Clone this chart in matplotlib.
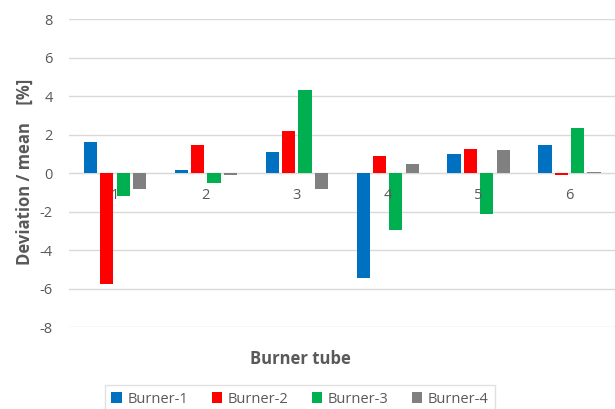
import matplotlib
matplotlib.use("Agg")
import matplotlib.pyplot as plt
import numpy as np

plt.rcParams['font.family'] = ['Open Sans', 'DejaVu Sans']
plt.rcParams['axes.unicode_minus'] = False

# data
tubes = ['1', '2', '3', '4', '5', '6']
burner_1 = [1.65, 0.18, 1.10, -5.43, 1.01, 1.46]
burner_2 = [-5.75, 1.47, 2.20, 0.89, 1.25, -0.08]
burner_3 = [-1.16, -0.48, 4.31, -2.93, -2.11, 2.37]
burner_4 = [-0.82, -0.11, -0.80, 0.49, 1.22, 0.06]

series = [burner_1, burner_2, burner_3, burner_4]
names = ['Burner-1', 'Burner-2', 'Burner-3', 'Burner-4']
colors = ['#0070C0', '#FF0000', '#00B050', '#808080']

txt = '#595959'
grid = '#d9d9d9'

fig = plt.figure(figsize=(6.15, 4.09), dpi=100)
ax = fig.add_axes([0.113, 0.1995, 0.887, 0.7535])

x = np.arange(len(tubes))
step = 0.18
w = 0.145
for i, (vals, name, c) in enumerate(zip(series, names, colors)):
    ax.bar(x + (i - 1.5) * step, vals, w, color=c, linewidth=0,
           label=name, zorder=3)

ax.set_xlim(-0.5, len(tubes) - 0.5)
ax.set_ylim(-8, 8)
ax.set_yticks(np.arange(-8, 9, 2))
ax.yaxis.grid(True, color=grid, linewidth=1, zorder=0)
ax.set_axisbelow(True)

for s in ['top', 'right', 'left']:
    ax.spines[s].set_visible(False)
ax.spines['bottom'].set_position(('data', 0))
ax.spines['bottom'].set_color(grid)
ax.spines['bottom'].set_zorder(1)

# category labels sit just under the zero line, over the bars
ax.set_xticks(x)
ax.set_xticklabels([])
ax.tick_params(axis='x', length=0)
for xi, lab in zip(x, tubes):
    ax.annotate(lab, (xi, 0), xytext=(0, -16.3), textcoords='offset points',
                ha='center', va='center', fontsize=10.5, color=txt, zorder=5)
ax.tick_params(axis='y', length=0, pad=12, labelsize=10.5, colors=txt)

fig.text(25 / 615, 1 - 172 / 409, 'Deviation / mean    [%]', rotation=90,
         ha='center', va='center', fontsize=12, fontweight='bold', color=txt)
fig.text(300 / 615, 1 - 359 / 409, 'Burner tube', ha='center', va='center',
         fontsize=12, fontweight='bold', color=txt)

leg = fig.legend(loc='upper center', bbox_to_anchor=(300 / 615, 1 - 385 / 409),
                 ncol=4, frameon=True, fancybox=False, fontsize=10.5,
                 handlelength=0.7, handleheight=0.7, handletextpad=0.4,
                 columnspacing=1.6, borderpad=0.45, borderaxespad=0)
leg.get_frame().set_edgecolor(grid)
leg.get_frame().set_linewidth(1)
for t in leg.get_texts():
    t.set_color(txt)

plt.savefig('out.png', dpi=100)
